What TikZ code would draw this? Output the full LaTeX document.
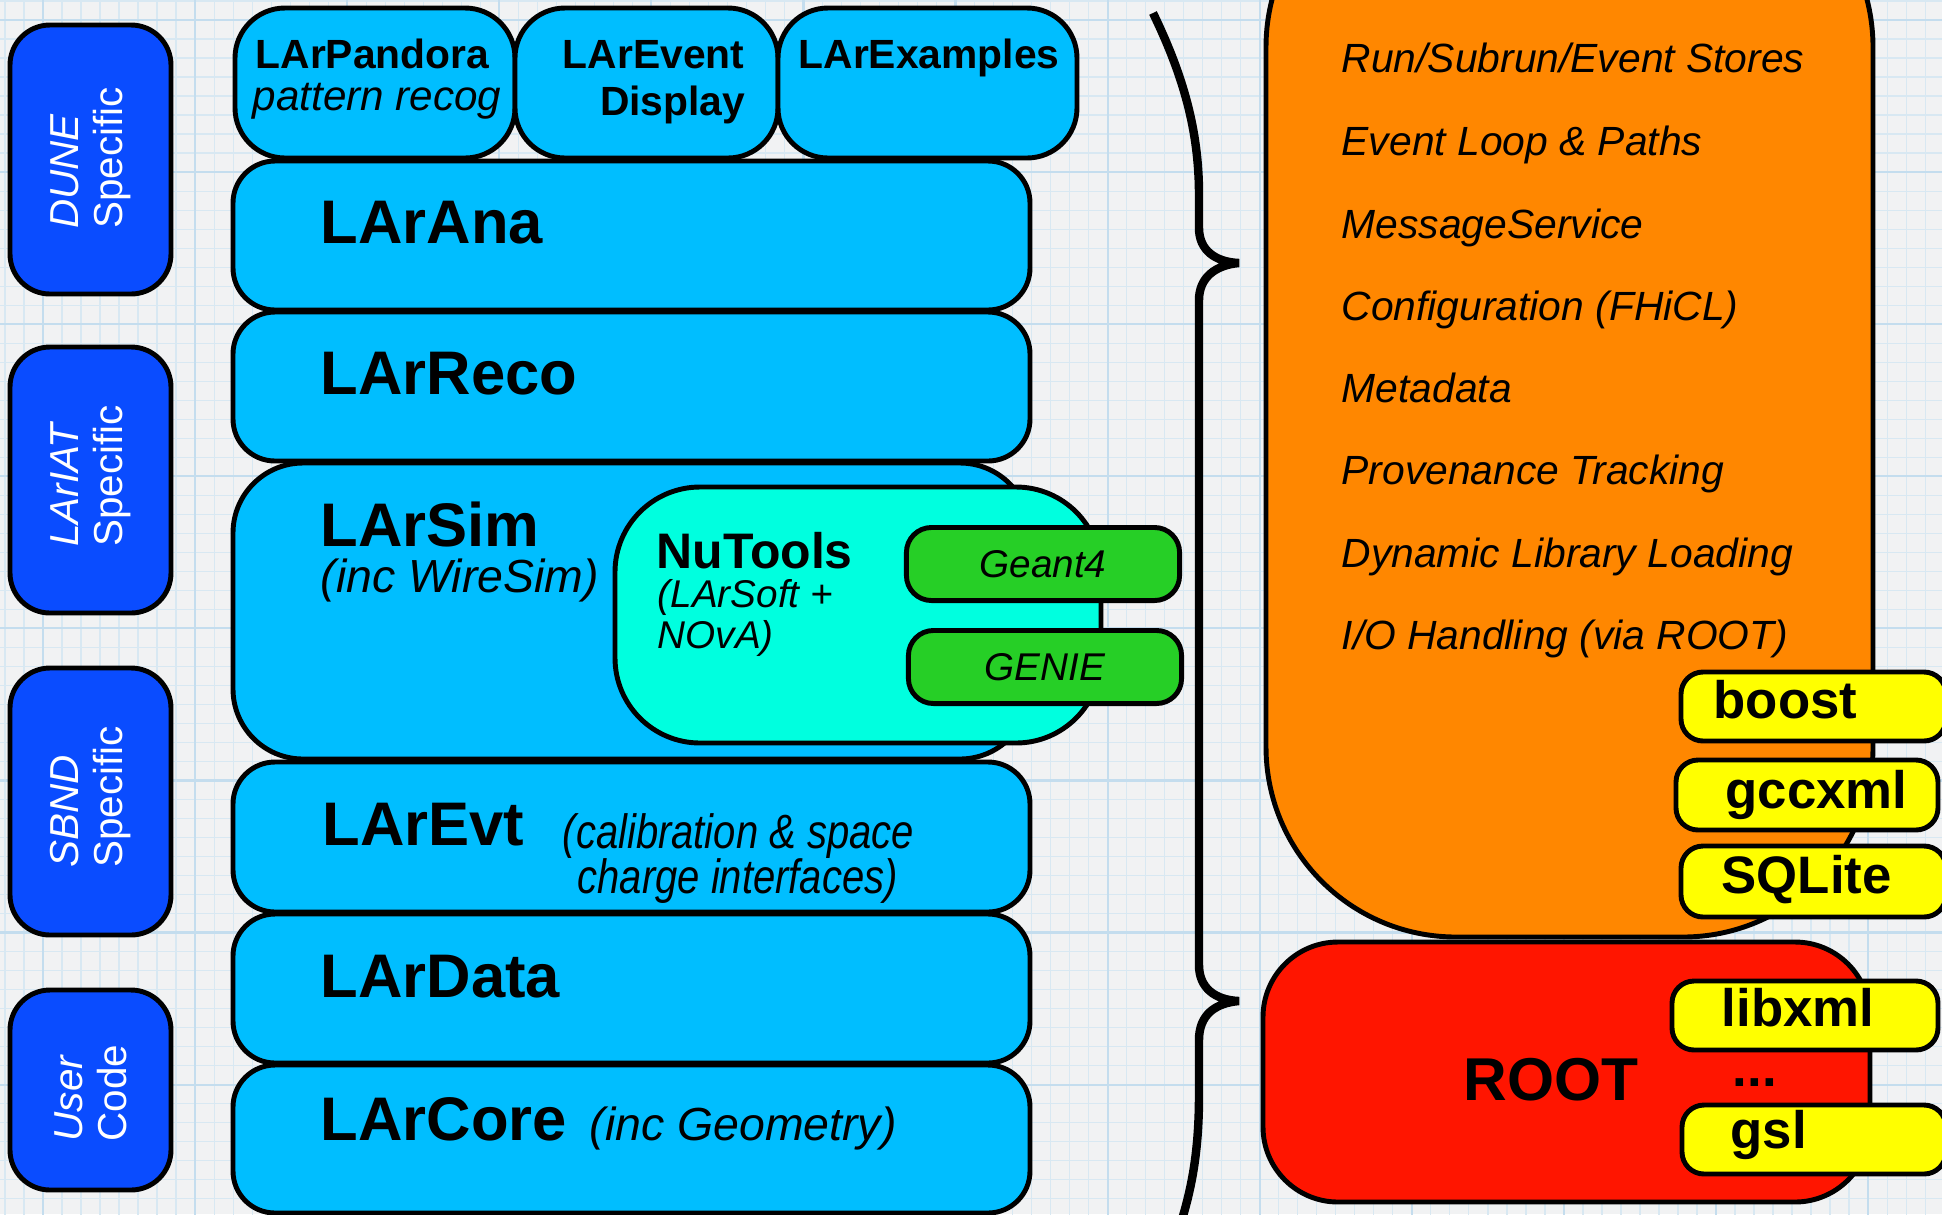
\documentclass[tikz,border=0pt]{standalone}
\usepackage{fontspec}
\setmainfont{Liberation Sans}
\newfontfamily\narrowfont{Liberation Sans}[FakeStretch=0.83]
\usetikzlibrary{positioning}

\definecolor{paper}{HTML}{F1F2F3}
\definecolor{gridminor}{HTML}{D8E8F2}
\definecolor{gridmajor}{HTML}{C4DDEE}
\definecolor{expblue}{HTML}{0A4CFF}
\definecolor{larblue}{HTML}{00BEFF}
\definecolor{nucyan}{HTML}{00FFDF}
\definecolor{extgreen}{HTML}{26CF26}
\definecolor{artorange}{HTML}{FF8700}
\definecolor{rootred}{HTML}{FF1500}
\definecolor{extyellow}{HTML}{FFFF00}

\tikzset{
  box/.style={draw=black,line width=1.4pt,line join=round},
  expbox/.style={box,fill=expblue,rounded corners=0.4cm},
  toppkg/.style={box,fill=larblue,rounded corners=0.5cm},
  layer/.style={box,fill=larblue,rounded corners=0.42cm},
  extbox/.style={box,fill=extgreen,rounded corners=0.25cm,minimum width=2.73cm,
    minimum height=0.73cm,font=\fontsize{11}{12}\selectfont\itshape},
  libbox/.style={box,fill=extyellow,rounded corners=0.22cm},
  brace/.style={draw=black,line width=2.4pt},
  sidetext/.style={rotate=90,align=left,text=white,font=\fontsize{11.5}{12.5}\selectfont},
  smallname/.style={anchor=base west,font=\fontsize{11.6}{12}\selectfont\bfseries},
  bigname/.style={anchor=base west,font=\fontsize{17.5}{18}\selectfont\bfseries},
  note/.style={anchor=base west,font=\fontsize{13.2}{14}\selectfont\itshape},
  artitem/.style={anchor=base west,font=\fontsize{11.6}{12}\selectfont\itshape},
  libname/.style={anchor=base west,font=\fontsize{15}{16}\selectfont\bfseries}
}

\begin{document}
\begin{tikzpicture}[x=0.01cm,y=-0.01cm,every node/.style={inner sep=0pt}]
\useasboundingbox (0,0) rectangle (1942,1214);
\clip (0,0) rectangle (1942,1214);

% graph paper
\fill[paper] (0,0) rectangle (1942,1214);
\draw[gridminor,line width=0.35pt,step=0.19cm,shift={(5,1)}] (-30,1240) grid (1960,-30);
\draw[gridmajor,line width=0.6pt,step=1.52cm,shift={(43,20)}] (-60,1240) grid (1960,-40);

% experiment column
\draw[expbox] (10,25) rectangle (171,294);
\node[sidetext] (dune) at (91,158) {{\itshape DUNE}\\Specific};
\draw[expbox] (10,347) rectangle (171,613);
\node[sidetext] (lariat) at (91,476) {{\itshape LArIAT}\\Specific};
\draw[expbox] (10,668) rectangle (171,935);
\node[sidetext] (sbnd) at (91,797) {{\itshape SBND}\\Specific};
\draw[expbox] (10,990) rectangle (171,1190);
\node[sidetext] (user) at (91,1093) {{\itshape User}\\Code};

% top row
\draw[toppkg] (235,8) rectangle (515,158);
\node[smallname] (pandora) at (255,68) {LArPandora};
\node[anchor=base west,font=\fontsize{12}{13}\selectfont\itshape] (recog) at (252,110) {pattern recog};
\draw[toppkg] (515,8) rectangle (778,158);
\node[smallname,anchor=base east] (evd) at (745,68) {LArEvent};
\node[smallname,anchor=base east] (display) at (746,115) {Display};
\draw[toppkg] (778,8) rectangle (1077,158);
\node[smallname] (examples) at (798,68) {LArExamples};

% larsoft layers
\draw[layer] (233,161) rectangle (1030,310);
\node[bigname] (ana) at (320,243) {LArAna};
\draw[layer] (233,312) rectangle (1030,461);
\node[bigname] (reco) at (320,394) {LArReco};
\draw[layer,rounded corners=0.7cm] (233,463) rectangle (1030,759);
\node[bigname] (sim) at (320,546) {LArSim};
\node[note] (wiresim) at (320,592) {(inc WireSim)};

\draw[box,fill=nucyan,rounded corners=0.85cm] (615,487) rectangle (1101,743);
\node[anchor=base west,font=\fontsize{14.2}{15}\selectfont\bfseries] (nutools) at (656,568) {NuTools};
\node[anchor=base west,font=\fontsize{11}{12}\selectfont\itshape] (nusoft) at (657,607) {(LArSoft +};
\node[anchor=base west,font=\fontsize{11}{12}\selectfont\itshape] (nova) at (657,648) {NOvA)};
\node[extbox] (geant) at (1043,564) {Geant4};
\node[extbox] (genie) at (1045,667) {GENIE};

\draw[layer] (233,762) rectangle (1030,912);
\node[bigname] (evt) at (322,845) {LArEvt};
\node[anchor=base west,font=\narrowfont\fontsize{13.7}{14}\selectfont\itshape] (calib) at (562,848) {(calibration \& space};
\node[anchor=base west,font=\narrowfont\fontsize{13.7}{14}\selectfont\itshape] (charge) at (577,893) {charge interfaces)};
\draw[layer] (233,914) rectangle (1030,1063);
\node[bigname] (data) at (320,997) {LArData};
\draw[layer] (233,1065) rectangle (1030,1213);
\node[bigname] (core) at (320,1140) {LArCore};
\node[note] (geom) at (589,1140) {(inc Geometry)};

% brace
\draw[brace] (1153,13) .. controls (1183,75) and (1199,130) .. (1199,195)
  -- (1199,228) .. controls (1199,250) and (1215,262) .. (1239,263)
  .. controls (1215,265) and (1199,278) .. (1199,300)
  -- (1199,965) .. controls (1199,988) and (1215,1000) .. (1239,1001)
  .. controls (1215,1003) and (1199,1015) .. (1199,1040)
  -- (1199,1095) .. controls (1199,1150) and (1192,1185) .. (1183,1216);

% art framework
\draw[box,fill=artorange,rounded corners=1.9cm] (1266,-143) rectangle (1873,937);
\node[artitem] (stores) at (1341,72) {Run/Subrun/Event Stores};
\node[artitem] (loop) at (1341,155) {Event Loop \& Paths};
\node[artitem] (msg) at (1341,238) {MessageService};
\node[artitem] (fhicl) at (1341,320) {Configuration (FHiCL)};
\node[artitem] (meta) at (1341,402) {Metadata};
\node[artitem] (prov) at (1341,484) {Provenance Tracking};
\node[artitem] (dynlib) at (1341,567) {Dynamic Library Loading};
\node[artitem] (io) at (1341,649) {I/O Handling (via ROOT)};

\draw[libbox] (1681,672) rectangle (1946,741);
\node[libname] (boost) at (1713,718) {boost};
\draw[libbox] (1676,760) rectangle (1938,830);
\node[libname] (gccxml) at (1725,808) {gccxml};
\draw[libbox] (1681,846) rectangle (1946,917);
\node[libname] (sqlite) at (1721,893) {SQLite};

% root
\draw[box,fill=rootred,rounded corners=0.75cm] (1263,942) rectangle (1870,1202);
\node[anchor=base west,font=\fontsize{17.2}{18}\selectfont\bfseries] (root) at (1463,1100) {ROOT};
\draw[libbox] (1672,981) rectangle (1938,1050);
\node[libname] (libxml) at (1721,1026) {libxml};
\node[libname] (more) at (1732,1086) {...};
\draw[libbox] (1682,1105) rectangle (1946,1174);
\node[libname] (gsl) at (1730,1148) {gsl};
\end{tikzpicture}
\end{document}
